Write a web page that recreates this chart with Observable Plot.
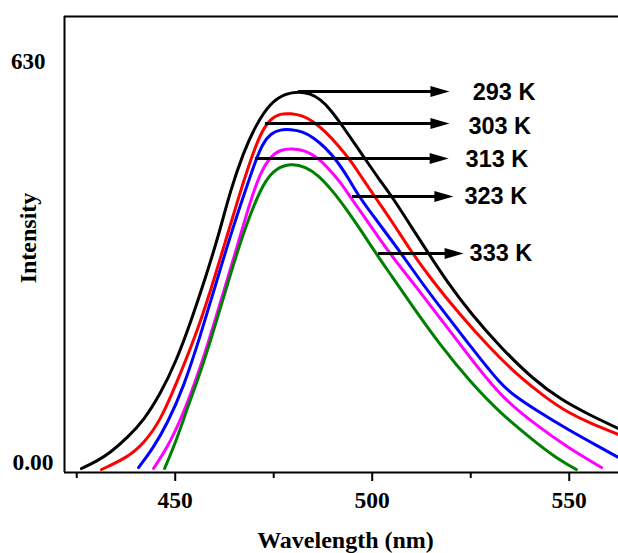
<!DOCTYPE html>
<html><head><meta charset="utf-8">
<script src="https://cdn.jsdelivr.net/npm/d3@7"></script>
<script src="https://cdn.jsdelivr.net/npm/@observablehq/plot@0.6"></script>
<style>
body{margin:0;background:#fff}
#chart svg text{font-weight:bold}
</style>
</head><body><div id="chart"></div>
<script>
const series = ["293 K","303 K","313 K","323 K","333 K"];
const colors = ["#000000","#ff0000","#0000ff","#ff00ff","#008000"];

const wl293 = [426.2,430.0,433.6,437.9,442.0,446.3,450.1,453.9,457.7,461.0,464.0,467.3,470.4,474.2,478.0,481.3,484.3,486.9,489.4,492.0,495.0,498.3,501.6,505.2,509.7,514.3,518.6,525.0,532.6,540.9,547.8,555.4,562.5];
const int293 = [-9.4,1.6,15.7,39.3,66.0,108.4,157.1,220.0,290.7,356.6,427.3,487.0,529.5,565.6,579.7,582.9,579.7,570.3,554.6,532.6,505.9,476.0,446.2,416.3,372.4,328.4,287.5,234.1,180.7,130.4,99.0,73.8,53.4];

const wl303 = [431.3,437.9,442.0,446.3,450.6,455.2,459.0,462.8,466.6,469.1,471.6,474.2,476.7,479.3,482.3,485.1,488.1,491.4,494.5,497.5,500.8,505.2,509.7,514.8,522.4,530.0,536.9,544.0,549.6,555.4,562.5];
const int303 = [-11.0,7.9,29.9,66.0,128.8,199.5,270.2,348.8,427.3,474.5,516.9,540.4,548.3,548.3,545.2,535.7,520.0,498.0,474.5,446.2,416.3,377.1,333.1,289.1,231.0,179.1,136.7,102.1,78.6,61.3,44.0];

const wl313 = [440.7,444.5,448.0,452.1,456.4,460.2,464.0,467.8,470.4,472.2,474.2,476.7,479.3,482.3,485.1,488.1,491.2,494.0,496.5,499.6,503.4,507.2,511.8,517.3,525.0,532.6,536.4,540.9,549.6,557.9,562.5];
const int313 = [-7.9,23.6,61.3,117.8,199.5,278.1,356.6,427.3,474.5,501.2,516.9,523.2,523.2,520.0,510.6,494.9,472.9,446.2,419.5,392.8,361.4,329.9,289.1,243.5,182.2,122.5,103.7,84.8,51.8,23.6,7.9];

const wl323 = [444.5,448.0,451.3,454.6,458.2,462.0,465.8,469.1,471.6,474.2,476.7,479.8,483.1,486.1,488.9,492.0,494.5,498.3,502.1,507.2,510.5,517.3,525.0,532.6,541.4,549.6,558.2];
const int323 = [-9.4,23.6,66.0,117.8,183.8,262.4,340.9,411.6,455.6,480.8,491.7,493.3,490.2,479.2,461.9,439.9,416.3,383.3,348.8,306.4,281.2,226.2,163.4,103.7,59.7,23.6,-7.9];

const wl333 = [447.3,450.6,453.1,455.7,459.0,462.8,466.6,470.4,472.9,475.5,479.3,483.1,486.4,489.9,493.7,497.5,501.3,505.2,509.7,517.3,525.0,532.6,540.9,546.5,551.8];
const int333 = [-9.4,39.3,86.4,128.8,191.7,270.2,348.8,411.6,443.0,461.9,469.8,465.0,450.9,427.3,395.9,361.4,325.2,290.7,249.8,183.8,125.7,77.0,34.6,7.9,-11.0];

const arrowStart = [481.3,472.9,470.4,495.0,501.6];
const arrowTip   = [519.6,519.6,519.4,520.6,523.2];
const arrowY     = [582.9,532.6,477.6,417.9,328.4];
const labelX     = [525.5,524.4,523.7,523.4,524.7];
const labelY     = [581.3,528.7,476.8,418.7,328.4];

const xTicks = [450,500,550];
const xMinorTicks = [425,475,525];
const xDomain = [421.9,562.5];
const yDomain = [-15.7,700.7];

const curves = [[wl293,int293],[wl303,int303],[wl313,int313],[wl323,int323],[wl333,int333]];
const rows = curves.flatMap(([w,v],k) => w.map((x,j) => ({series: series[k], wl: x, val: v[j]})));
const arrows = series.map((s,i) => ({label: s, start: arrowStart[i], tip: arrowTip[i], y: arrowY[i], lx: labelX[i], ly: labelY[i]}));

const serif = "'Liberation Serif','Times New Roman',serif";
const sans = "'Liberation Sans',Arial,sans-serif";
const triRight = {draw(ctx){ctx.moveTo(0,0);ctx.lineTo(-19,-5.5);ctx.lineTo(-19,5.5);ctx.closePath();}};

const plot = Plot.plot({
  width: 618, height: 553,
  marginLeft: 64, marginRight: 0, marginTop: 16, marginBottom: 81,
  style: {fontFamily: serif, background: "white", color: "black"},
  x: {domain: xDomain},
  y: {domain: yDomain},
  color: {domain: series, range: colors},
  marks: [
    Plot.line(rows, {x: "wl", y: "val", z: "series", stroke: "series", strokeWidth: 3, curve: "basis", clip: true}),
    Plot.ruleY(arrows, {y: "y", x1: "start", x2: d => d.tip - 3, strokeWidth: 3, stroke: "black"}),
    Plot.dot(arrows, {x: "tip", y: "y", symbol: triRight, fill: "black", stroke: "none", r: 5}),
    Plot.text(arrows, {x: "lx", y: "ly", text: "label", textAnchor: "start", fontSize: 23.5, fontWeight: "bold", fontFamily: sans, fill: "black"}),
    Plot.ruleX([xDomain[0]], {strokeWidth: 2, stroke: "black"}),
    Plot.ruleY([yDomain[1]], {strokeWidth: 2, stroke: "black"}),
    Plot.ruleY([yDomain[0]], {strokeWidth: 2, stroke: "black"}),
    Plot.axisX({ticks: xTicks, tickSize: 9, tickPadding: 10, tickFormat: d => String(d), fontSize: 23.5, fontWeight: "bold", strokeWidth: 2, label: null}),
    Plot.axisX({ticks: xMinorTicks, tickSize: 6, tickFormat: () => "", strokeWidth: 2, label: null}),
    Plot.axisY({ticks: [0], tickSize: 0, tickPadding: 11, tickFormat: () => "0.00", fontSize: 23.5, fontWeight: "bold", label: null}),
    Plot.axisY({ticks: [630], tickSize: 0, tickPadding: 19, tickFormat: d => String(d), fontSize: 23, fontWeight: "bold", label: null}),
    Plot.text(["Wavelength (nm)"], {text: d => d, frameAnchor: "bottom", dy: 68, dx: 4, lineAnchor: "middle", textAnchor: "middle", fontSize: 24, fontWeight: "bold"}),
    Plot.text(["Intensity"], {text: d => d, frameAnchor: "left", rotate: -90, dx: -36, dy: -6.5, lineAnchor: "middle", textAnchor: "middle", fontSize: 24, fontWeight: "bold"})
  ]
});
document.getElementById("chart").append(plot);
</script>
</body></html>
